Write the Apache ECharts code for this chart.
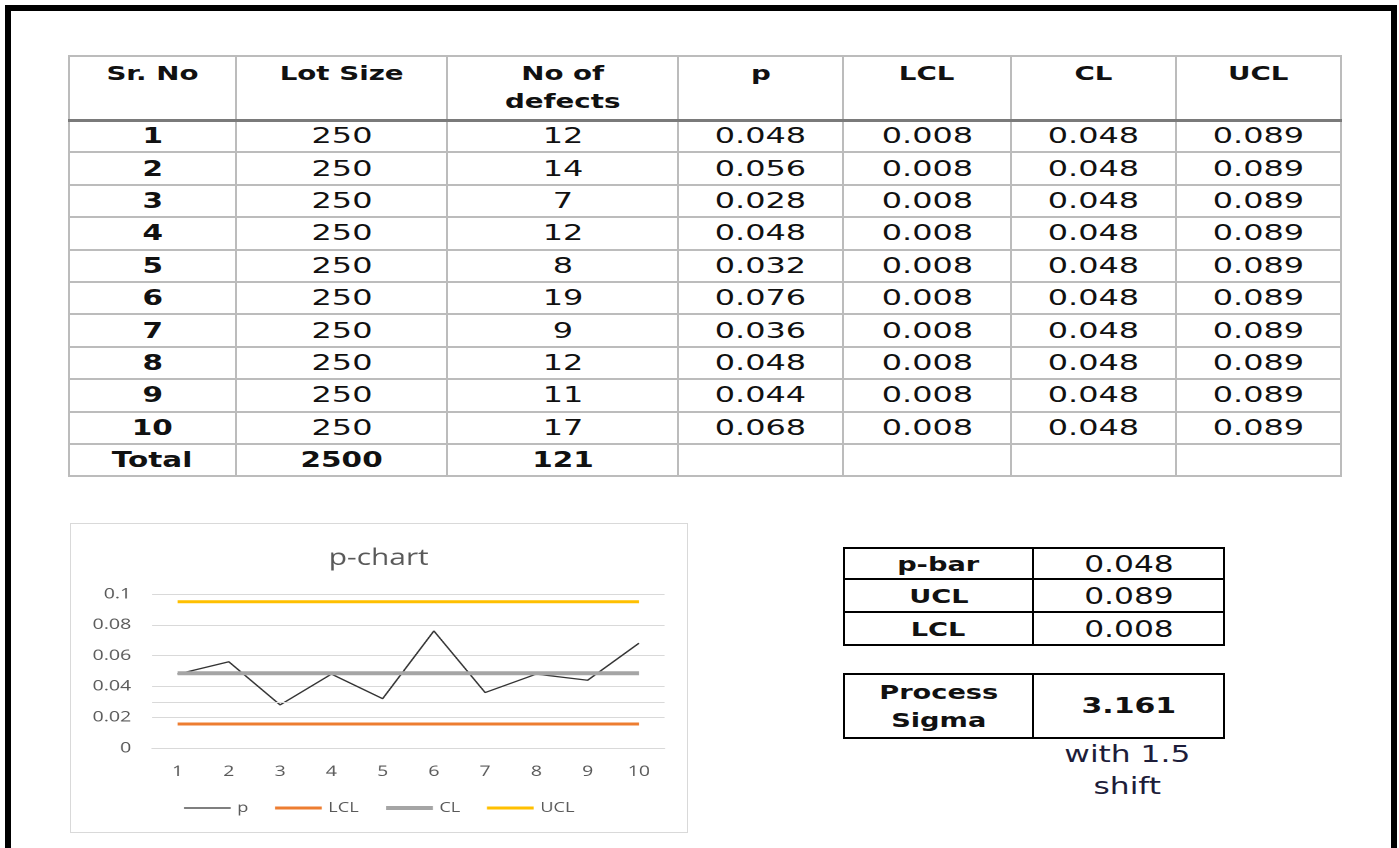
<!DOCTYPE html>
<html><head><meta charset="utf-8">
<script src="https://cdn.jsdelivr.net/npm/echarts@6/dist/echarts.min.js"></script>
<style>
html,body{margin:0;padding:0;width:1399px;height:848px;overflow:hidden;background:#fff;}
#frame{position:absolute;left:5px;top:5px;width:1380px;height:900px;border:6px solid #000;box-sizing:content-box;}
.s{display:inline-block;white-space:nowrap;}
table{position:absolute;border-collapse:collapse;table-layout:fixed;font-family:"DejaVu Sans",sans-serif;color:#111;}
#mt td{border:2px solid #bcbcbc;text-align:center;padding:0;}
#mt tr.h td{vertical-align:top;padding-top:3px;font-weight:bold;font-size:19.5px;line-height:28px;border-bottom:3px solid #7a7a7a;}
#mt tr.d td{vertical-align:middle;font-size:22px;line-height:26px;}
#mt tr.d td.b, #mt tr.t td{font-weight:bold;}
.st td{border:2px solid #000;text-align:center;padding:0;vertical-align:middle;}
.st td.l{font-weight:bold;font-size:20px;line-height:28px;}
.st td.v{font-size:23px;line-height:28px;}
#note{position:absolute;left:1032px;top:738px;width:191px;text-align:center;font-family:"DejaVu Sans",sans-serif;font-size:23px;line-height:32px;color:#1d1d3a;}
#cwrap{position:absolute;left:70px;top:523px;width:618px;height:310px;border:1px solid #d9d9d9;box-sizing:border-box;overflow:hidden;}
#chart{position:absolute;left:-1px;top:-1px;height:310px;transform-origin:0 0;}
</style></head><body>
<div id="frame"></div>
<table id="mt"></table>
<table id="st1" class="st"></table>
<table id="st2" class="st"></table>
<div id="note"></div>
<div id="cwrap"><div id="chart"></div></div>
<script>
// ---------- data ----------
const headers = ['Sr. No', 'Lot Size', 'No of<br>defects', 'p', 'LCL', 'CL', 'UCL'];
const srNo = ['1','2','3','4','5','6','7','8','9','10'];
const lotSize = [250,250,250,250,250,250,250,250,250,250];
const defects = [12,14,7,12,8,19,9,12,11,17];
const pVals = [0.048,0.056,0.028,0.048,0.032,0.076,0.036,0.048,0.044,0.068];
const lclText = ['0.008','0.008','0.008','0.008','0.008','0.008','0.008','0.008','0.008','0.008'];
const clText  = ['0.048','0.048','0.048','0.048','0.048','0.048','0.048','0.048','0.048','0.048'];
const uclText = ['0.089','0.089','0.089','0.089','0.089','0.089','0.089','0.089','0.089','0.089'];
const totalRow = ['Total', '2500', '121', '', '', '', ''];
const summaryLabels = ['p-bar', 'UCL', 'LCL'];
const summaryValues = ['0.048', '0.089', '0.008'];
const sigmaLabel = 'Process<br>Sigma';
const sigmaValue = '3.161';
const noteText = 'with 1.5<br>shift';
// chart series
const chartTitle = 'p-chart';
const chartCats = ['1','2','3','4','5','6','7','8','9','10'];
const seriesNames = ['p', 'LCL', 'CL', 'UCL'];
const chartLCL = [0.0156,0.0156,0.0156,0.0156,0.0156,0.0156,0.0156,0.0156,0.0156,0.0156];
const chartCL  = [0.0485,0.0485,0.0485,0.0485,0.0485,0.0485,0.0485,0.0485,0.0485,0.0485];
const chartUCL = [0.095,0.095,0.095,0.095,0.095,0.095,0.095,0.095,0.095,0.095];
const extraLine = [0.0346];
const yTicks = [0, 0.02, 0.04, 0.06, 0.08, 0.1];

// ---------- layout / style ----------
const SX_MAIN = 1.45, SX_BOLD = 1.34, SX_HEAD = 1.42, SX_SMALL = 1.36, SX_CHART = 1.3;
const colW = [167, 211, 231, 165, 168, 165, 165];
const seriesColors = ['#333333', '#ED7D31', '#A5A5A5', '#FFC000'];
const seriesWidths = [1.3, 3, 4, 3];
const sp = (t, k) => '<span class="s" style="transform:scaleX(' + k + ')">' + t + '</span>';

const mt = document.getElementById('mt');
mt.style.left = '68px'; mt.style.top = '55px'; mt.style.width = colW.reduce((a,b)=>a+b,0) + 'px';
let html = '<colgroup>' + colW.map(w => '<col style="width:' + w + 'px">').join('') + '</colgroup>';
html += '<tr class="h" style="height:64px">' + headers.map(h => '<td>' + sp(h, SX_HEAD) + '</td>').join('') + '</tr>';
for (let i = 0; i < srNo.length; i++) {
  const cells = [srNo[i], String(lotSize[i]), String(defects[i]), pVals[i].toFixed(3), lclText[i], clText[i], uclText[i]];
  html += '<tr class="d" style="height:32.4px">' + cells.map((c, j) => '<td' + (j === 0 ? ' class="b"' : '') + '>' + sp(c, j === 0 ? SX_BOLD : SX_MAIN) + '</td>').join('') + '</tr>';
}
html += '<tr class="d t" style="height:32.4px">' + totalRow.map(c => '<td>' + sp(c, SX_BOLD) + '</td>').join('') + '</tr>';
mt.innerHTML = html;

const st1 = document.getElementById('st1');
st1.style.left = '843px'; st1.style.top = '547px'; st1.style.width = '380px';
st1.innerHTML = '<colgroup><col style="width:189px"><col style="width:191px"></colgroup>' +
  summaryLabels.map((l, i) => '<tr style="height:' + (i === 0 ? 31 : 33) + 'px"><td class="l">' + sp(l, SX_SMALL) + '</td><td class="v">' + sp(summaryValues[i], SX_SMALL) + '</td></tr>').join('');

const st2 = document.getElementById('st2');
st2.style.left = '843px'; st2.style.top = '673px'; st2.style.width = '380px';
st2.innerHTML = '<colgroup><col style="width:189px"><col style="width:191px"></colgroup>' +
  '<tr style="height:64px"><td class="l">' + sp(sigmaLabel, SX_SMALL) + '</td><td class="l" style="font-size:22px">' + sp(sigmaValue, SX_SMALL) + '</td></tr>';

document.getElementById('note').innerHTML = sp(noteText, SX_SMALL);

// ---------- chart ----------
const CW = 618 / SX_CHART;
const chartDom = document.getElementById('chart');
chartDom.style.width = CW + 'px';
chartDom.style.transform = 'scaleX(' + SX_CHART + ')';
const chart = echarts.init(chartDom, null, { devicePixelRatio: 2, renderer: 'canvas' });
const gridLeft = (152 - 70) / SX_CHART;
const gridRight = CW - (665 - 70) / SX_CHART;
const txt = '#595959';
const font = '"Open Sans", "Noto Sans", sans-serif';
const seriesData = [pVals, chartLCL, chartCL, chartUCL];
chart.setOption({
  animation: false,
  backgroundColor: '#fff',
  title: { text: chartTitle, left: 'center', top: 19, textStyle: { color: txt, fontSize: 23, fontWeight: 'normal', fontFamily: font } },
  legend: {
    bottom: 13, left: 'center', itemWidth: 36, itemHeight: 10, itemGap: 19,
    itemStyle: { opacity: 0 },
    textStyle: { color: txt, fontSize: 14, fontFamily: font },
    data: seriesNames.map((n, i) => ({ name: n, lineStyle: { width: seriesWidths[i], color: seriesColors[i] } }))
  },
  grid: { left: gridLeft, right: gridRight, top: 71, bottom: 85, containLabel: false },
  xAxis: {
    type: 'category', data: chartCats, boundaryGap: true,
    axisLine: { show: true, lineStyle: { color: '#d9d9d9' } },
    axisTick: { show: false },
    axisLabel: { color: txt, fontSize: 15, margin: 16, fontFamily: font }
  },
  yAxis: {
    type: 'value', min: yTicks[0], max: yTicks[yTicks.length - 1], interval: yTicks[1] - yTicks[0],
    axisLine: { show: false }, axisTick: { show: false },
    splitLine: { lineStyle: { color: '#d9d9d9', width: 1 } },
    axisLabel: { color: txt, fontSize: 15, margin: 16, fontFamily: font }
  },
  series: seriesNames.map((n, i) => {
    const s = { name: n, type: 'line', data: seriesData[i], symbol: 'none',
      lineStyle: { color: seriesColors[i], width: seriesWidths[i] }, itemStyle: { color: seriesColors[i] } };
    if (i === 0) {
      s.markLine = { silent: true, symbol: 'none', label: { show: false },
        lineStyle: { color: '#d9d9d9', type: 'solid', width: 1 }, data: extraLine.map(v => ({ yAxis: v })) };
    }
    return s;
  })
});
</script>
</body></html>
